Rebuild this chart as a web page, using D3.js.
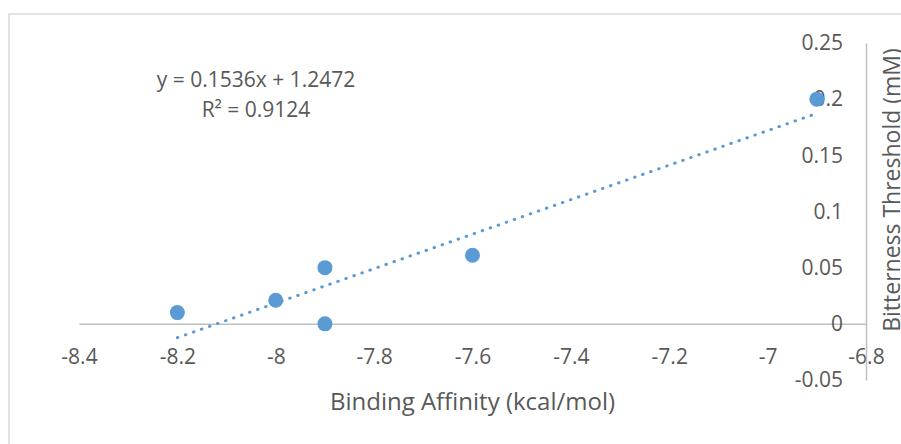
<!DOCTYPE html>
<html>
<head>
<meta charset="utf-8">
<script src="https://cdn.jsdelivr.net/npm/d3@7"></script>
<style>
  html, body { margin: 0; padding: 0; background: #fff; overflow: hidden; }
  svg text { font-family: "Open Sans", "Noto Sans", sans-serif; fill: #595959; }
</style>
</head>
<body>
<svg id="chart" width="901" height="444"></svg>
<script>
// binding affinity (kcal/mol) vs bitterness threshold (mM)
const affinity = [-8.2, -8.0, -7.9, -7.9, -7.6, -6.9];
const threshold = [0.01, 0.021, 0.05, 0.0, 0.061, 0.2];

const xTicks = [-8.4, -8.2, -8.0, -7.8, -7.6, -7.4, -7.2, -7.0, -6.8];
const xTickLabels = ["-8.4", "-8.2", "-8", "-7.8", "-7.6", "-7.4", "-7.2", "-7", "-6.8"];
const yTicks = [-0.05, 0, 0.05, 0.1, 0.15, 0.2, 0.25];
const yTickLabels = ["-0.05", "0", "0.05", "0.1", "0.15", "0.2", "0.25"];

// linear trendline as reported
const trendSlope = 0.1536;
const trendIntercept = 1.2472;
const trendLabels = ["y = 0.1536x + 1.2472", "R² = 0.9124"];

const xTitle = "Binding Affinity (kcal/mol)";
const yTitle = "Bitterness Threshold (mM)";

const blue = "#5B9BD5";

const svg = d3.select("#chart");

// chart frame (runs off the right and bottom edge)
svg.append("rect")
  .attr("x", 9).attr("y", 14)
  .attr("width", 1000).attr("height", 1000)
  .attr("fill", "none")
  .attr("stroke", "#D9D9D9").attr("stroke-width", 1.5);

const x = d3.scaleLinear().domain([-8.4, -6.8]).range([79, 866]);
const y = d3.scaleLinear().domain([-0.05, 0.25]).range([380, 43]);

// x axis crosses at y = 0
const xAxis = svg.append("g")
  .attr("transform", `translate(0,${y(0)})`)
  .call(d3.axisBottom(x)
    .tickValues(xTicks)
    .tickSize(0)
    .tickFormat((d, i) => xTickLabels[i]));
xAxis.select(".domain").attr("stroke", "#BFBFBF").attr("stroke-width", 1.5);
xAxis.selectAll("text")
  .attr("font-size", 21)
  .attr("y", 40).attr("dy", null)
  .attr("fill", "#595959");

// y axis crosses at x = -6.8
const yAxis = svg.append("g")
  .attr("transform", `translate(${x(-6.8)},0)`)
  .call(d3.axisLeft(y)
    .tickValues(yTicks)
    .tickSize(0)
    .tickPadding(23)
    .tickFormat((d, i) => yTickLabels[i]));
yAxis.select(".domain").attr("stroke", "#BFBFBF").attr("stroke-width", 1.5);
yAxis.selectAll("text").attr("font-size", 21).attr("fill", "#595959");

// dotted trendline over the data range
const xr = d3.extent(affinity);
svg.append("line")
  .attr("x1", x(xr[0])).attr("y1", y(trendSlope * xr[0] + trendIntercept))
  .attr("x2", x(xr[1])).attr("y2", y(trendSlope * xr[1] + trendIntercept))
  .attr("stroke", blue)
  .attr("stroke-width", 3)
  .attr("stroke-linecap", "round")
  .attr("stroke-dasharray", "0.5 8");

// points
svg.append("g").selectAll("circle")
  .data(affinity.map((a, i) => [a, threshold[i]]))
  .join("circle")
  .attr("cx", d => x(d[0]))
  .attr("cy", d => y(d[1]))
  .attr("r", 7.5)
  .attr("fill", blue);

// trendline equation
svg.append("g").selectAll("text")
  .data(trendLabels)
  .join("text")
  .attr("x", 256)
  .attr("y", (d, i) => 87 + i * 30)
  .attr("text-anchor", "middle")
  .attr("font-size", 21)
  .text(d => d);

// axis titles
svg.append("text")
  .attr("x", (x.range()[0] + x.range()[1]) / 2)
  .attr("y", 410)
  .attr("text-anchor", "middle")
  .attr("font-size", 24)
  .text(xTitle);

// the reference crops this title at the right edge
svg.append("text")
  .attr("transform", "translate(900,190) rotate(-90)")
  .attr("text-anchor", "middle")
  .attr("font-size", 23)
  .text(yTitle);
</script>
</body>
</html>
